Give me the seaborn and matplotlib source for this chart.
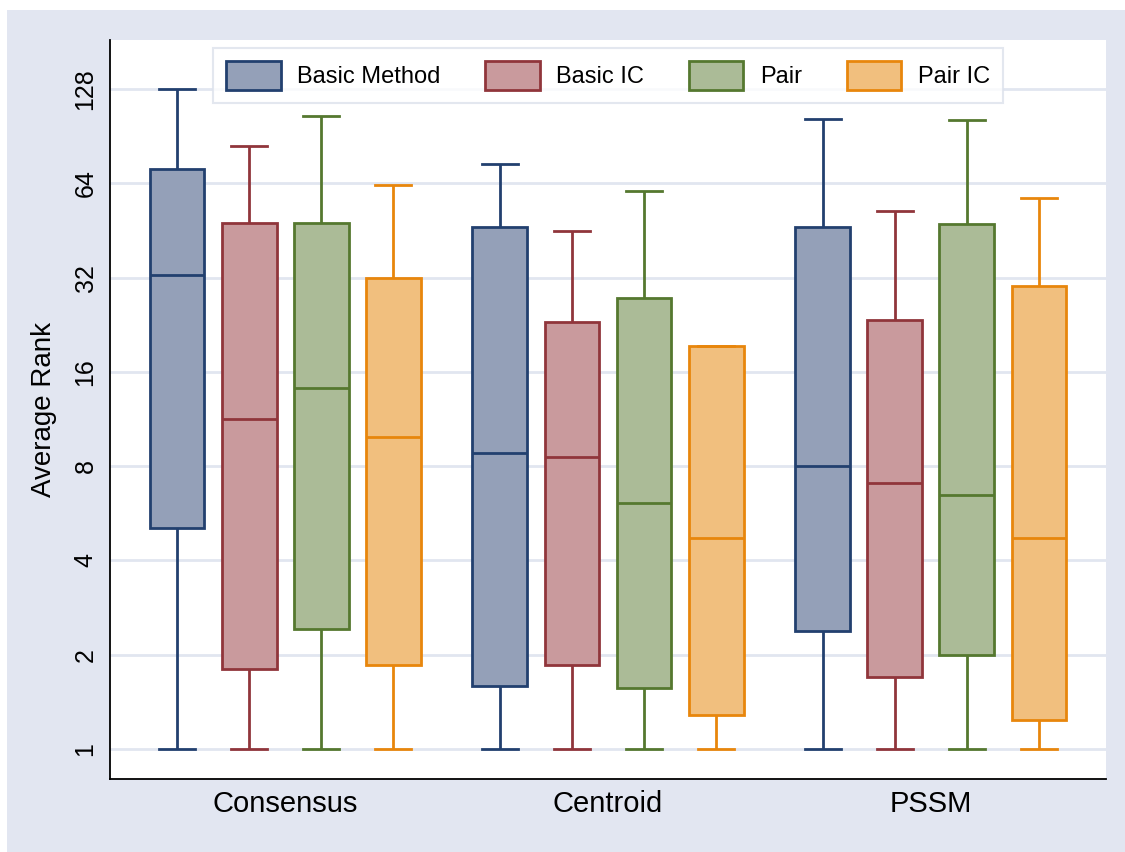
import pandas as pd
import seaborn as sns
import matplotlib.pyplot as plt
from matplotlib.patches import Patch, Rectangle

# Box stats: min, q1, median, q3, max
groups = ["Consensus", "Centroid", "PSSM"]
methods = ["Basic Method", "Basic IC", "Pair", "Pair IC"]

consensus = {
    "Basic Method": [1, 5.07, 32.6, 71, 128],
    "Basic IC": [1, 1.80, 11.3, 47.8, 84],
    "Pair": [1, 2.42, 14.2, 47.8, 105],
    "Pair IC": [1, 1.85, 9.9, 31.9, 63],
}
centroid = {
    "Basic Method": [1, 1.59, 8.8, 46.4, 74],
    "Basic IC": [1, 1.85, 8.56, 23.1, 45],
    "Pair": [1, 1.57, 6.1, 27.5, 60.4],
    "Pair IC": [1, 1.28, 4.72, 19.3, 19.3],
}
pssm = {
    "Basic Method": [1, 2.38, 8.0, 46.4, 103],
    "Basic IC": [1, 1.70, 7.06, 23.4, 52.2],
    "Pair": [1, 2.0, 6.46, 47.5, 102],
    "Pair IC": [1, 1.24, 4.72, 30.0, 57.4],
}

fills = ["#94A0B8", "#C99A9D", "#ABBB97", "#F1BF7E"]
edges = ["#22406F", "#90353B", "#55782F", "#E8860C"]
bg = "#E2E6F1"
grid = "#E1E6F0"

rows = []
for g, d in zip(groups, [consensus, centroid, pssm]):
    for m in methods:
        for v in d[m]:
            rows.append({"group": g, "method": m, "value": v})
df = pd.DataFrame(rows)

plt.rcParams["font.family"] = ["Liberation Sans", "DejaVu Sans"]

fig = plt.figure(figsize=(11.25, 8.52), dpi=100, facecolor=bg)
fig.patches.append(Rectangle((0, 1 - 10 / 852), 1, 10 / 852, transform=fig.transFigure,
                             facecolor="white", edgecolor="none", zorder=0))
fig.patches.append(Rectangle((0, 0), 7 / 1125, 1, transform=fig.transFigure,
                             facecolor="white", edgecolor="none", zorder=0))
ax = fig.add_axes([110 / 1125, 73 / 852, 996 / 1125, 739 / 852])
ax.set_facecolor("white")

pal = dict(zip(methods, fills))
for m, ec in zip(methods, edges):
    sns.boxplot(data=df[df["method"] == m], x="group", y="value", hue="method",
                order=groups, hue_order=methods, palette=pal, linecolor=ec,
                dodge=True, linewidth=2, width=0.892, gap=0.237, whis=(0, 100),
                saturation=1, log_scale=2, legend=False, capwidths=0.11, ax=ax)

ax.set_yscale("log", base=2)
yt = [1, 2, 4, 8, 16, 32, 64, 128]
ax.set_yticks(yt)
ax.set_yticklabels([str(t) for t in yt])
ax.set_ylim(0.802, 183.5)
ax.set_xlim(-0.542, 2.542)
ax.minorticks_off()
ax.yaxis.grid(True, color=grid, linewidth=2)
ax.set_axisbelow(True)

ax.tick_params(axis="y", length=0, pad=9, labelsize=18)
plt.setp(ax.get_yticklabels(), rotation=90, va="center")
ax.tick_params(axis="x", length=0, pad=8, labelsize=21)
ax.set_xlabel("")
ax.set_ylabel("Average Rank", fontsize=20, labelpad=12)

for s in ["top", "right"]:
    ax.spines[s].set_visible(False)
for s in ["left", "bottom"]:
    ax.spines[s].set_color("black")
    ax.spines[s].set_linewidth(1.3)

handles = [Patch(facecolor=f, edgecolor=e, linewidth=2, label=m)
           for m, f, e in zip(methods, fills, edges)]
leg = ax.legend(handles=handles, ncol=4, loc="upper center", bbox_to_anchor=(0.5, 0.989),
                fontsize=17, frameon=True, fancybox=False, handlelength=2.3,
                handleheight=1.5, handletextpad=0.7, columnspacing=1.9,
                borderpad=0.55, borderaxespad=0)
leg.get_frame().set_edgecolor("#DDE2EC")
leg.get_frame().set_linewidth(1.5)

fig.savefig("out.png", dpi=100, facecolor=bg)
